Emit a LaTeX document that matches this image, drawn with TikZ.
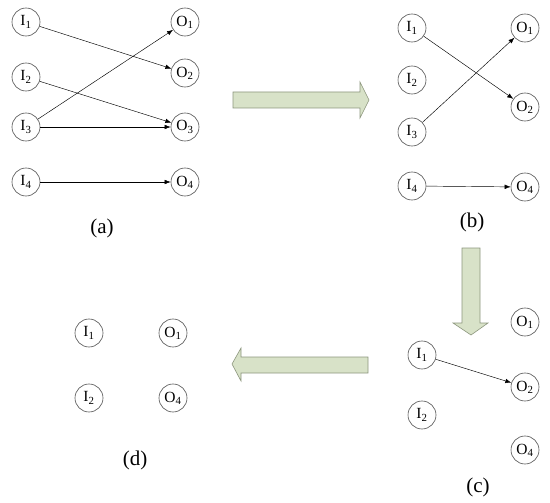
\documentclass[tikz,border=0pt]{standalone}
\usepackage{fontspec}
\setmainfont{Liberation Serif}
\usepackage{xcolor}
\usetikzlibrary{arrows.meta}
\definecolor{verdeclaro}{RGB}{216,226,200}
\definecolor{bordeflecha}{RGB}{140,150,125}
\definecolor{grisnodo}{RGB}{80,80,80}

\begin{document}
\begin{tikzpicture}[x=1pt, y=-1pt,
    nodo/.style={circle, draw=grisnodo, line width=0.6pt, minimum size=28pt, inner sep=0pt, font=\fontsize{15.5}{15.5}\selectfont},
    enlace/.style={-{Latex[length=6pt,width=4.5pt]}, line width=0.45pt},
    flecha/.style={fill=verdeclaro, draw=bordeflecha, line width=0.6pt},
    rotulo/.style={font=\fontsize{21}{21}\selectfont}]
  \useasboundingbox (0,0) rectangle (550,503);

  % (a)
  \foreach \i/\yi/\yo in {1/22/22, 2/77/73, 3/127/127, 4/182/182} {
    \node[nodo] (aI\i) at (26,\yi) {I\textsubscript{\i}};
    \node[nodo] (aO\i) at (185,\yo) {O\textsubscript{\i}};
  }
  \draw[enlace] (aI1) -- (aO2);
  \draw[enlace] (aI2) -- (aO3);
  \draw[enlace] (aI3) -- (aO1);
  \draw[enlace] (aI3) -- (aO3);
  \draw[enlace] (aI4) -- (aO4);
  \node[rotulo] (ra) at (102,228) {(a)};

  % (b)
  \foreach \i/\yi in {1/28, 2/80, 3/132, 4/186}
    \node[nodo] (bI\i) at (412,\yi) {I\textsubscript{\i}};
  \foreach \i/\yo in {1/28, 2/107, 4/187}
    \node[nodo] (bO\i) at (525,\yo) {O\textsubscript{\i}};
  \draw[enlace] (bI1) -- (bO2);
  \draw[enlace] (bI3) -- (bO1);
  \draw[enlace] (bI4) -- (bO4);
  \node[rotulo] (rb) at (472,222) {(b)};

  % (c)
  \node[nodo] (cI1) at (422,355) {I\textsubscript{1}};
  \node[nodo] (cI2) at (422,415) {I\textsubscript{2}};
  \node[nodo] (cO1) at (525,322) {O\textsubscript{1}};
  \node[nodo] (cO2) at (525,387) {O\textsubscript{2}};
  \node[nodo] (cO4) at (525,450) {O\textsubscript{4}};
  \draw[enlace] (cI1) -- (cO2);
  \node[rotulo] (rc) at (478,487) {(c)};

  % (d)
  \node[nodo] (dI1) at (89,333) {I\textsubscript{1}};
  \node[nodo] (dI2) at (89,398) {I\textsubscript{2}};
  \node[nodo] (dO1) at (173,333) {O\textsubscript{1}};
  \node[nodo] (dO4) at (173,398) {O\textsubscript{4}};
  \node[rotulo] (rd) at (135,460) {(d)};

  % flechas grandes
  \draw[flecha] (233,92) -- (360,92) -- (360,82) -- (369,100) -- (360,118) -- (360,108) -- (233,108) -- cycle;
  \draw[flecha] (462,248) -- (480,248) -- (480,323) -- (488,323) -- (471,335) -- (453,323) -- (462,323) -- cycle;
  \draw[flecha] (368,357) -- (241,357) -- (241,348) -- (232,364) -- (241,381) -- (241,373) -- (368,373) -- cycle;
\end{tikzpicture}
\end{document}
